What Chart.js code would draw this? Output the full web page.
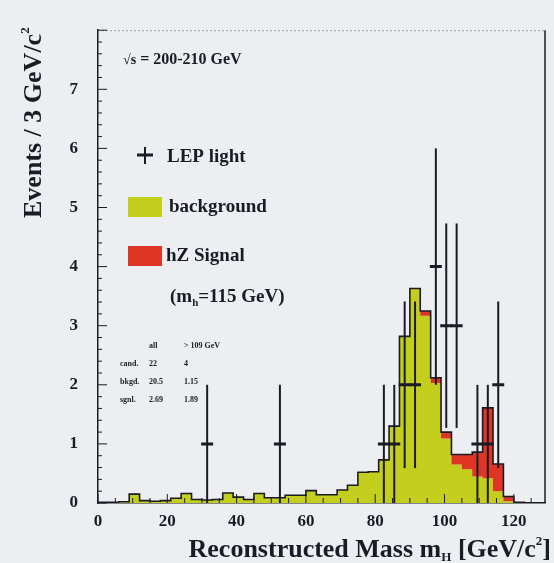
<!DOCTYPE html>
<html lang="en">
<head>
    <meta charset="UTF-8">
    <title>Reconstructed Higgs mass</title>
    <script src="https://cdn.jsdelivr.net/npm/chart.js"></script>
    <style>
        html, body {
            margin: 0;
            padding: 0;
            background-color: #eceef1;
        }
        #massChart {
            display: block;
        }
    </style>
</head>
<body>
    <canvas id="massChart" width="554" height="563"></canvas>
    <script>
        // 3 GeV bins, low edges
        const binEdges = [0, 3, 6, 9, 12, 15, 18, 21, 24, 27, 30, 33, 36, 39, 42, 45, 48, 51, 54, 57,
            60, 63, 66, 69, 72, 75, 78, 81, 84, 87, 90, 93, 96, 99, 102, 105, 108, 111, 114, 117,
            120, 123, 126];
        const lastEdge = 129;

        const background = [0.01, 0.01, 0.02, 0.15, 0.04, 0.03, 0.04, 0.08, 0.16, 0.06, 0.05, 0.06, 0.17, 0.10,
            0.06, 0.16, 0.09, 0.09, 0.13, 0.13, 0.21, 0.14, 0.14, 0.22, 0.30, 0.52, 0.53, 0.73, 1.30, 2.82,
            3.63, 3.17, 2.03, 1.09, 0.65, 0.57, 0.45, 0.42, 0.20, 0.03, 0.01, 0, 0];
        const signal = [0, 0, 0, 0, 0, 0, 0, 0, 0, 0, 0, 0, 0, 0,
            0, 0, 0, 0, 0, 0, 0, 0, 0, 0, 0, 0, 0, 0, 0, 0,
            0, 0.08, 0.09, 0.11, 0.17, 0.25, 0.41, 1.19, 0.46, 0.08, 0, 0, 0];

        // LEP candidates
        const dataMass = [31.5, 52.5, 82.5, 85.5, 88.5, 91.5, 97.5, 100.5, 103.5, 109.5, 112.5, 115.5];
        const dataEvents = [1, 1, 1, 1, 2, 2, 4, 3, 3, 1, 1, 2];
        const dataErr = [1, 1, 1, 1, 1.41, 1.41, 2, 1.73, 1.73, 1, 1, 1.41];

        const yTicks = [0, 1, 2, 3, 4, 5, 6, 7];
        const xTicks = [0, 20, 40, 60, 80, 100, 120];

        const INK = '#1b1b26';
        const YELLOW = '#c3cf1c';
        const RED = '#de3524';
        const SERIF = "'Liberation Serif', 'DejaVu Serif', serif";

        function stepPoints(values) {
            const pts = binEdges.map((e, i) => ({ x: e, y: values[i] }));
            pts.push({ x: lastEdge, y: values[values.length - 1] });
            return pts;
        }
        const totals = background.map((b, i) => b + signal[i]);

        // draws text pieces with sub/superscripts
        function richText(ctx, parts, x, y, size, align) {
            let w = 0;
            parts.forEach(p => {
                ctx.font = 'bold ' + Math.round(size * (p.s || 1)) + 'px ' + SERIF;
                w += ctx.measureText(p.t).width;
            });
            let cx = align === 'right' ? x - w : x;
            parts.forEach(p => {
                ctx.font = 'bold ' + Math.round(size * (p.s || 1)) + 'px ' + SERIF;
                ctx.fillText(p.t, cx, y + (p.dy || 0) * size);
                cx += ctx.measureText(p.t).width;
            });
        }

        const decorations = {
            id: 'decorations',
            afterDatasetsDraw(chart) {
                const ctx = chart.ctx;
                const xs = chart.scales.x, ys = chart.scales.y;
                const area = chart.chartArea;
                ctx.save();

                // frame
                ctx.strokeStyle = '#9aa0a6';
                ctx.lineWidth = 1;
                ctx.setLineDash([2, 2]);
                ctx.beginPath();
                ctx.moveTo(area.left, area.top + 0.5);
                ctx.lineTo(area.right, area.top + 0.5);
                ctx.stroke();
                ctx.setLineDash([]);
                ctx.strokeStyle = INK;
                ctx.lineWidth = 1.5;
                ctx.beginPath();
                ctx.moveTo(area.right, area.top);
                ctx.lineTo(area.right, area.bottom);
                ctx.stroke();

                // inward ticks
                ctx.lineWidth = 1;
                for (let v = 0; v <= 8.001; v += 0.2) {
                    const py = ys.getPixelForValue(v);
                    const major = Math.abs(v - Math.round(v)) < 0.01;
                    ctx.beginPath();
                    ctx.moveTo(area.left, py);
                    ctx.lineTo(area.left + (major ? 9 : 4), py);
                    ctx.stroke();
                }
                for (let v = 0; v <= 125; v += 5) {
                    const px = xs.getPixelForValue(v);
                    const major = v % 20 === 0;
                    ctx.beginPath();
                    ctx.moveTo(px, area.bottom);
                    ctx.lineTo(px, area.bottom - (major ? 9 : 5));
                    ctx.stroke();
                }

                // error bars
                ctx.lineWidth = 2;
                dataMass.forEach((m, i) => {
                    const px = xs.getPixelForValue(m);
                    ctx.beginPath();
                    ctx.moveTo(px, ys.getPixelForValue(dataEvents[i] + dataErr[i]));
                    ctx.lineTo(px, ys.getPixelForValue(Math.max(0, dataEvents[i] - dataErr[i])));
                    ctx.stroke();
                });

                ctx.fillStyle = INK;
                ctx.textBaseline = 'middle';

                // energy label
                richText(ctx, [{ t: '\u221As', s: 0.9 }, { t: ' = 200-210 GeV' }], 123, 60, 16, 'left');

                // legend
                ctx.lineWidth = 2;
                ctx.beginPath();
                ctx.moveTo(145, 147); ctx.lineTo(145, 164);
                ctx.stroke();
                ctx.lineWidth = 3;
                ctx.beginPath();
                ctx.moveTo(137, 155); ctx.lineTo(153, 155);
                ctx.stroke();
                richText(ctx, [{ t: 'LEP light' }], 167, 157, 19, 'left');

                ctx.fillStyle = YELLOW;
                ctx.fillRect(128, 197, 34, 20);
                ctx.fillStyle = RED;
                ctx.fillRect(128, 246, 34, 20);
                ctx.fillStyle = INK;
                richText(ctx, [{ t: 'background' }], 169, 207, 19, 'left');
                richText(ctx, [{ t: 'hZ Signal' }], 166, 256, 19, 'left');
                richText(ctx, [{ t: '(m' }, { t: 'h', s: 0.6, dy: 0.35 }, { t: '=115 GeV)' }], 170, 297, 19, 'left');

                // small summary table
                const rows = [
                    ['', 'all', '> 109 GeV'],
                    ['cand.', '22', '4'],
                    ['bkgd.', '20.5', '1.15'],
                    ['sgnl.', '2.69', '1.89']
                ];
                rows.forEach((r, i) => {
                    const y = 346 + i * 18;
                    richText(ctx, [{ t: r[0] }], 120, y, 8, 'left');
                    richText(ctx, [{ t: r[1] }], 149, y, 8, 'left');
                    richText(ctx, [{ t: r[2] }], 184, y, 8, 'left');
                });

                // axis titles
                ctx.textBaseline = 'alphabetic';
                richText(ctx, [
                    { t: 'Reconstructed Mass m' },
                    { t: 'H', s: 0.5, dy: 0.15 },
                    { t: ' [GeV/c' },
                    { t: '2', s: 0.5, dy: -0.45 },
                    { t: ']' }
                ], 551, 557, 26, 'right');

                ctx.translate(41, 218);
                ctx.rotate(-Math.PI / 2);
                richText(ctx, [
                    { t: 'Events / 3 GeV/c' },
                    { t: '2', s: 0.5, dy: -0.45 }
                ], 0, 0, 26, 'left');

                ctx.restore();
            }
        };

        const pageBg = {
            id: 'pageBg',
            beforeDraw(chart) {
                const ctx = chart.ctx;
                ctx.save();
                ctx.fillStyle = '#eceef1';
                ctx.fillRect(0, 0, chart.width, chart.height);
                ctx.restore();
            }
        };

        new Chart(document.getElementById('massChart').getContext('2d'), {
            type: 'line',
            data: {
                datasets: [
                    {
                        label: 'background',
                        data: stepPoints(background),
                        stepped: 'before',
                        fill: 'origin',
                        backgroundColor: YELLOW,
                        borderWidth: 0,
                        pointRadius: 0,
                        order: 3
                    },
                    {
                        label: 'hZ Signal',
                        data: stepPoints(totals),
                        stepped: 'before',
                        fill: '-1',
                        backgroundColor: RED,
                        borderColor: INK,
                        borderWidth: 1.6,
                        pointRadius: 0,
                        order: 2
                    },
                    {
                        label: 'LEP light',
                        data: dataMass.map((m, i) => ({ x: m, y: dataEvents[i] })),
                        showLine: false,
                        pointStyle: 'line',
                        pointRadius: 6,
                        pointBorderWidth: 3,
                        pointBorderColor: INK,
                        borderColor: INK,
                        order: 1
                    }
                ]
            },
            options: {
                responsive: false,
                animation: false,
                devicePixelRatio: 1,
                layout: { padding: { left: 0, top: 16, right: 3, bottom: 0 } },
                plugins: {
                    legend: { display: false },
                    tooltip: { enabled: false }
                },
                scales: {
                    x: {
                        type: 'linear',
                        min: 0,
                        max: 129,
                        afterBuildTicks(scale) {
                            scale.ticks = xTicks.map(v => ({ value: v }));
                        },
                        afterFit(scale) { scale.height = 60; },
                        ticks: {
                            color: INK,
                            padding: 8,
                            font: { family: SERIF, size: 17, weight: 'bold' }
                        },
                        grid: { drawOnChartArea: false, drawTicks: false },
                        border: { color: INK, width: 1.5 }
                    },
                    y: {
                        min: 0,
                        max: 8,
                        afterBuildTicks(scale) {
                            scale.ticks = yTicks.map(v => ({ value: v }));
                        },
                        afterFit(scale) { scale.width = 98; },
                        ticks: {
                            color: INK,
                            padding: 20,
                            font: { family: SERIF, size: 17, weight: 'bold' }
                        },
                        grid: { drawOnChartArea: false, drawTicks: false },
                        border: { color: INK, width: 1.5 }
                    }
                }
            },
            plugins: [pageBg, decorations]
        });
    </script>
</body>
</html>
